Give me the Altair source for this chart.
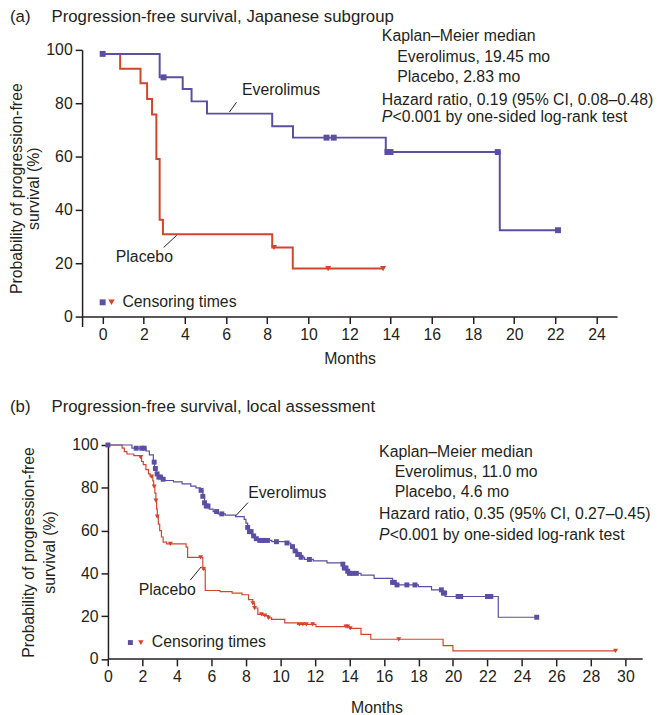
import altair as alt
import pandas as pd

FONT = "Liberation Sans"
PURPLE = "#5b4ea3"
RED = "#d2452b"
INK = "#231f20"

# ---------------- Panel (a): Japanese subgroup ----------------
a_evero_t = [0, 2.77, 3.89, 4.32, 5.07, 8.24, 9.25, 13.76, 19.3, 22.13]
a_evero_s = [98.5, 89.7, 85.3, 80.7, 76.1, 71.4, 67.1, 61.7, 32.4, 32.4]
a_plac_t = [0, 0.85, 1.84, 2.16, 2.40, 2.61, 2.77, 2.93, 8.24, 9.24, 13.63]
a_plac_s = [98.5, 92.9, 87.5, 81.6, 75.8, 59.1, 36.3, 30.9, 25.9, 18.0, 18.0]
a_evero_cens = [0, 2.96, 10.88, 11.23, 13.84, 13.99, 19.2, 22.13]
a_plac_cens = [8.33, 10.96, 13.63]

# ---------------- Panel (b): local assessment ----------------
b_evero_t = [0, 1.39, 2.2, 2.4, 2.63, 2.7, 2.8, 2.9, 3.1, 3.3, 3.8, 4.3, 4.8, 5.1, 5.35,
             5.5, 5.6, 5.7, 5.87, 6.1, 6.4, 6.8, 7.4, 7.9, 8.0, 8.1, 8.2, 8.35, 8.5, 8.7,
             9.5, 10.3, 10.6, 10.8, 11.0, 11.2, 11.4, 11.9, 12.7, 13.6, 13.7, 13.85, 14.0,
             14.67, 15.43, 16.5, 16.7, 18.0, 18.76, 19.4, 19.55, 22.63, 24.86]
b_evero_s = [100, 98.5, 97.2, 95.4, 92.0, 89.0, 86.5, 85.0, 84.0, 83.4, 82.8, 81.8, 80.8, 80.0, 78.8,
             76.0, 73.0, 71.5, 70.0, 68.9, 67.8, 67.2, 66.5, 65.2, 63.5, 61.5, 59.5, 57.5, 56.2, 55.4,
             54.8, 54.2, 52.5, 50.5, 48.8, 47.5, 46.5, 45.8, 44.9, 44.3, 42.5, 41.0, 40.0,
             39.2, 37.7, 35.8, 34.6, 33.8, 32.3, 30.8, 29.2, 19.5, 19.5]
b_plac_t = [0, 0.82, 0.95, 1.1, 1.5, 1.85, 1.95, 2.05, 2.2, 2.35, 2.45, 2.6, 2.65, 2.72, 2.78,
            2.82, 2.86, 2.92, 3.0, 3.1, 3.2, 3.4, 4.53, 4.62, 5.5, 5.64, 6.5, 7.2, 7.77, 8.15,
            8.4, 8.5, 8.69, 9.0, 9.3, 9.49, 10.25, 11.0, 12.06, 14.0, 14.67, 15.24, 19.43,
            20.0, 29.43]
b_plac_s = [100, 98.5, 96.9, 95.8, 95.0, 94.3, 92.3, 90.8, 88.5, 86.5, 85.2, 83.2, 80.5, 77.5, 74.0,
            70.0, 66.5, 63.0, 60.0, 57.0, 54.6, 53.8, 52.3, 47.5, 42.0, 32.0, 31.5, 30.8, 30.0, 27.7,
            26.0, 23.8, 20.8, 20.3, 19.2, 18.5, 16.9, 16.2, 15.1, 14.3, 11.5, 9.2, 6.2,
            3.8, 3.8]
b_evero_cens = [0, 1.64, 1.96, 2.1, 2.68, 2.75, 2.85, 2.95, 3.05, 3.2, 5.4, 5.5, 5.6, 5.7, 5.8,
                6.3, 6.6, 8.1, 8.2, 8.3, 8.45, 8.6, 8.8, 8.95, 9.1, 9.25, 9.77, 10.38, 10.7,
                10.85, 11.0, 11.1, 11.2, 11.68, 13.62, 13.7, 13.8, 13.9, 14.0, 14.2, 14.4,
                16.5, 16.6, 16.76, 17.33, 17.8, 19.33, 19.45, 19.52, 20.3, 20.45, 22.0, 22.1,
                22.2, 24.86]
b_plac_cens = [1.9, 2.53, 2.68, 2.78, 2.86, 3.62, 5.37, 5.54, 8.4, 8.5, 8.9, 9.1, 9.3, 11.1,
               11.3, 11.5, 11.87, 13.8, 13.9, 14.05, 16.86, 29.43]

a_stats = ["Kaplan\u2013Meier median", "Everolimus, 19.45 mo", "Placebo, 2.83 mo",
           "Hazard ratio, 0.19 (95% CI, 0.08\u20130.48)"]
b_stats = ["Kaplan\u2013Meier median", "Everolimus, 11.0 mo", "Placebo, 4.6 mo",
           "Hazard ratio, 0.35 (95% CI, 0.27\u20130.45)"]
p_rest = "<0.001 by one-sided log-rank test"
y_title = ["Probability of progression-free", "survival (%)"]


def step_at(ts, ss, t):
    val = ss[0]
    for ti, si in zip(ts, ss):
        if ti <= t:
            val = si
    return val


def panel(cfg):
    xa = dict(values=list(range(0, cfg["xmax_tick"] + 1, 2)), title="Months", offset=cfg["xoff"],
              grid=False, domain=cfg["xdomain_line"], domainColor=INK, domainWidth=1.5,
              tickColor=INK, tickWidth=1.5, tickSize=7, labelFont=FONT, labelFontSize=16,
              labelColor=INK, labelPadding=3, labelFlush=False, labelOverlap=False,
              titleFont=FONT, titleFontSize=16, titleFontWeight="normal", titleColor=INK,
              titlePadding=cfg["xtitle_pad"])
    if "xtitle_x" in cfg:
        xa["titleX"] = cfg["xtitle_x"]
    X = alt.X("t:Q", scale=alt.Scale(domain=cfg["xdom"], nice=False, zero=False), axis=alt.Axis(**xa))
    Y = alt.Y("s:Q", scale=alt.Scale(domain=cfg["ydom"], nice=False, zero=False),
              axis=alt.Axis(values=[0, 20, 40, 60, 80, 100], title=y_title, offset=cfg["yoff"],
                            grid=False, domainColor=INK, domainWidth=1.5, tickColor=INK,
                            tickWidth=1.5, tickSize=7, labelFont=FONT, labelFontSize=16,
                            labelColor=INK, labelPadding=3, labelOverlap=False,
                            titleFont=FONT, titleFontSize=16, titleFontWeight="normal",
                            titleColor=INK, titlePadding=cfg["ytitle_pad"],
                            titleLineHeight=cfg["ytitle_lh"]))
    layers = []
    if not cfg["xdomain_line"]:
        axdf = pd.DataFrame({"t": [0], "t2": [cfg["xdom"][1]], "s": [0]})
        layers.append(alt.Chart(axdf).mark_rule(color=INK, strokeWidth=1.5).encode(
            x=X, x2="t2:Q", y=Y))
    pl = pd.DataFrame({"t": cfg["pt"], "s": cfg["ps"]})
    ev = pd.DataFrame({"t": cfg["et"], "s": cfg["es"]})
    layers.append(alt.Chart(pl).mark_line(interpolate="step-after", color=RED,
                                          strokeWidth=cfg["lw"]).encode(x=X, y=Y))
    layers.append(alt.Chart(ev).mark_line(interpolate="step-after", color=PURPLE,
                                          strokeWidth=cfg["lw"]).encode(x=X, y=Y))
    pc = pd.DataFrame({"t": cfg["pc"], "s": [step_at(cfg["pt"], cfg["ps"], t) for t in cfg["pc"]]})
    ec = pd.DataFrame({"t": cfg["ec"], "s": [step_at(cfg["et"], cfg["es"], t) for t in cfg["ec"]]})
    layers.append(alt.Chart(pc).mark_point(shape="triangle-down", filled=True, opacity=1,
                                           color=RED, size=cfg["msize"]).encode(x=X, y=Y))
    layers.append(alt.Chart(ec).mark_point(shape="square", filled=True, opacity=1,
                                           color=PURPLE, size=cfg["msize"]).encode(x=X, y=Y))
    # curve labels with leader lines
    lab = pd.DataFrame({"t": cfg["lab_t"], "s": cfg["lab_s"], "label": ["Everolimus", "Placebo"]})
    layers.append(alt.Chart(lab).mark_text(align="left", baseline="middle", font=FONT,
                                           fontSize=16, color=INK).encode(x=X, y=Y, text="label:N"))
    lead = pd.DataFrame({"t": cfg["lead_t"], "s": cfg["lead_s"], "t2": cfg["lead_t2"],
                         "s2": cfg["lead_s2"]})
    layers.append(alt.Chart(lead).mark_rule(color=INK, strokeWidth=1).encode(
        x=X, y=Y, x2="t2:Q", y2="s2:Q"))
    # censoring legend
    lg = cfg["leg"]
    layers.append(alt.Chart(pd.DataFrame({"t": [lg[0]], "s": [lg[3]]})).mark_point(
        shape="square", filled=True, opacity=1, color=PURPLE, size=cfg["msize"]).encode(x=X, y=Y))
    layers.append(alt.Chart(pd.DataFrame({"t": [lg[1]], "s": [lg[3]]})).mark_point(
        shape="triangle-down", filled=True, opacity=1, color=RED, size=cfg["msize"] + 6).encode(x=X, y=Y))
    layers.append(alt.Chart(pd.DataFrame({"t": [lg[2]], "s": [lg[3]], "label": ["Censoring times"]})).mark_text(
        align="left", baseline="middle", font=FONT, fontSize=16, color=INK).encode(x=X, y=Y, text="label:N"))
    # statistics block
    st = pd.DataFrame({"t": cfg["st_t"], "s": cfg["st_s"], "label": cfg["stats"]})
    layers.append(alt.Chart(st).mark_text(align="left", baseline="middle", font=FONT,
                                          fontSize=16, color=INK).encode(x=X, y=Y, text="label:N"))
    pp = pd.DataFrame({"t": [cfg["st_t"][0]], "s": [cfg["p_s"]], "label": ["P"], "rest": [p_rest]})
    layers.append(alt.Chart(pp).mark_text(align="left", baseline="middle", font=FONT, fontSize=16,
                                          fontStyle="italic", color=INK).encode(x=X, y=Y, text="label:N"))
    layers.append(alt.Chart(pp).mark_text(align="left", baseline="middle", font=FONT, fontSize=16,
                                          dx=10.7, color=INK).encode(x=X, y=Y, text="rest:N"))
    # panel title
    tt = pd.DataFrame({"tag": [cfg["tag"]], "title": [cfg["title"]]})
    layers.append(alt.Chart(tt).mark_text(align="left", baseline="middle", font=FONT, fontSize=17,
                                          color=INK).encode(x=alt.value(-73), y=alt.value(cfg["title_y"]),
                                                            text="tag:N"))
    layers.append(alt.Chart(tt).mark_text(align="left", baseline="middle", font=FONT, fontSize=17,
                                          color=INK).encode(x=alt.value(-31), y=alt.value(cfg["title_y"]),
                                                            text="title:N"))
    return alt.layer(*layers).properties(width=cfg["w"], height=cfg["h"])


cfg_a = dict(xdom=[-1, 25], ydom=[-3.7, 100], xmax_tick=24, xoff=-10, yoff=0, xdomain_line=True,
             xtitle_pad=8, ytitle_pad=4, ytitle_lh=18,
             pt=a_plac_t, ps=a_plac_s, et=a_evero_t, es=a_evero_s, pc=a_plac_cens, ec=a_evero_cens,
             lw=2, msize=36,
             lab_t=[6.77, 0.64], lab_s=[84.9, 22.3],
             lead_t=[6.16, 2.96], lead_s=[76.7, 25.9], lead_t2=[6.51, 3.6], lead_s2=[80.4, 30.5],
             leg=[0, 0.43, 0.96, 5.35],
             st_t=[13.57, 14.32, 14.32, 13.57], st_s=[105.0, 97.2, 89.8, 81.3], p_s=75.0,
             stats=a_stats, tag="(a)", title="Progression-free survival, Japanese subgroup",
             title_y=-33, w=541.6, h=280)

cfg_b = dict(xdom=[-1.5, 31], ydom=[0, 100], xmax_tick=30, xoff=0, yoff=-26.2, xdomain_line=False,
             xtitle_pad=15, xtitle_x=298, ytitle_pad=14, ytitle_lh=22,
             pt=b_plac_t, ps=b_plac_s, et=b_evero_t, es=b_evero_s, pc=b_plac_cens, ec=b_evero_cens,
             lw=1.2, msize=25,
             lab_t=[8.13, 1.78], lab_s=[77.7, 32.0],
             lead_t=[7.41, 4.78], lead_s=[66.9, 36.9], lead_t2=[8.12, 5.41], lead_s2=[73.1, 43.1],
             leg=[1.30, 1.91, 2.54, 7.66],
             st_t=[15.72, 16.63, 16.63, 15.72], st_s=[96.6, 87.4, 78.2, 67.5], p_s=57.8,
             stats=b_stats, tag="(b)", title="Progression-free survival, local assessment",
             title_y=-38.7, w=567.5, h=216.6)

chart = alt.vconcat(panel(cfg_a), panel(cfg_b), spacing=32).properties(
    padding={"left": 0, "top": -4, "right": 0, "bottom": 0}
).configure_view(stroke=None)

chart.save("out.html", embed_options={"renderer": "svg", "actions": False})
